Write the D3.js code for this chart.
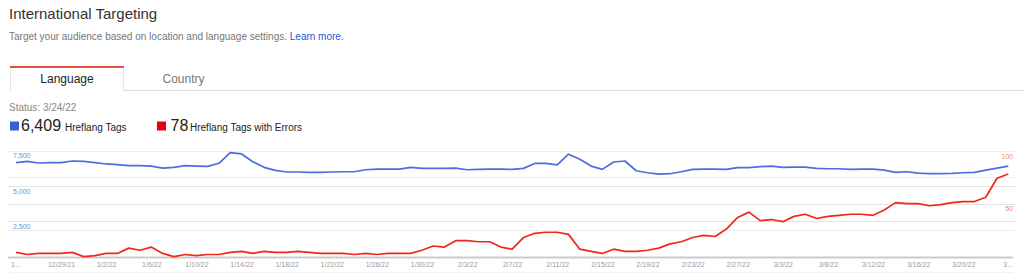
<!DOCTYPE html>
<html>
<head>
<meta charset="utf-8">
<script src="https://cdn.jsdelivr.net/npm/d3@7"></script>
<style>
  html, body { margin: 0; padding: 0; background: #fff; }
  svg { display: block; font-family: Arial, "Liberation Sans", Helvetica, sans-serif; }
</style>
</head>
<body>
<svg id="chart" width="1024" height="278"></svg>
<script>
// ---------- DATA ----------
const categories = [
  "12/25/21","12/26/21","12/27/21","12/28/21","12/29/21","12/30/21","12/31/21",
  "1/1/22","1/2/22","1/3/22","1/4/22","1/5/22","1/6/22","1/7/22","1/8/22","1/9/22","1/10/22",
  "1/11/22","1/12/22","1/13/22","1/14/22","1/15/22","1/16/22","1/17/22","1/18/22","1/19/22","1/20/22",
  "1/21/22","1/22/22","1/23/22","1/24/22","1/25/22","1/26/22","1/27/22","1/28/22","1/29/22","1/30/22","1/31/22",
  "2/1/22","2/2/22","2/3/22","2/4/22","2/5/22","2/6/22","2/7/22","2/8/22","2/9/22","2/10/22",
  "2/11/22","2/12/22","2/13/22","2/14/22","2/15/22","2/16/22","2/17/22","2/18/22","2/19/22","2/20/22",
  "2/21/22","2/22/22","2/23/22","2/24/22","2/25/22","2/26/22","2/27/22","2/28/22",
  "3/1/22","3/2/22","3/3/22","3/4/22","3/5/22","3/7/22","3/8/22","3/9/22","3/10/22","3/11/22","3/12/22",
  "3/13/22","3/14/22","3/15/22","3/16/22","3/17/22","3/18/22","3/19/22","3/20/22","3/21/22","3/22/22","3/23/22","3/24/22"
];

const hreflangTags = [
  6650,6750,6630,6650,6650,6770,6750,6650,6560,6510,
  6440,6440,6410,6270,6320,6440,6410,6390,6610,7370,
  7270,6720,6320,6110,5990,5990,5960,5960,5990,6010,
  6010,6150,6200,6200,6200,6320,6250,6250,6250,6270,
  6150,6180,6200,6200,6180,6250,6600,6600,6490,7250,
  6890,6410,6180,6700,6770,6080,5940,5840,5870,6010,
  6180,6200,6200,6180,6300,6300,6370,6410,6320,6340,
  6340,6250,6220,6220,6180,6200,6200,6130,5960,6010,
  5910,5870,5870,5890,5940,5960,6130,6270,6409
];

const hreflangErrors = [
  4,2,3,3,3,4,0,1,3,3,
  8,6,9,3,0,2,1,2,2,4,
  5,3,5,4,4,5,4,3,3,3,
  2,3,2,3,3,3,6,10,9,15,
  15,14,14,9,7,18,22,23,23,21,
  7,5,3,7,5,5,6,8,12,14,
  18,20,19,26,37,42,34,35,33,38,
  40,36,38,39,40,40,39,44,51,50,
  50,48,49,51,52,52,56,74,78
];

const leftTicks = [2500, 5000, 7500];
const rightGridTicks = [25, 50, 75, 100];
const rightLabelTicks = [50, 100];
const xTickLabels = ["1…","12/29/21","1/2/22","1/6/22","1/10/22","1/14/22","1/18/22","1/22/22",
  "1/26/22","1/30/22","2/3/22","2/7/22","2/11/22","2/15/22","2/19/22","2/23/22","2/27/22",
  "3/3/22","3/8/22","3/12/22","3/16/22","3/20/22","3…"];
const xTickDates = categories.filter((d, i) => i % 4 === 0);

const totalTags = "6,409";
const totalErrors = "78";
const statusDate = "3/24/22";

// ---------- DRAW ----------
const svg = d3.select("#chart");

// Header
svg.append("text").attr("x", 9).attr("y", 18.5).attr("font-size", 15).attr("fill", "#333")
  .text("International Targeting");
const sub = svg.append("text").attr("x", 9).attr("y", 39.5).attr("font-size", 10).attr("fill", "#777");
sub.append("tspan").text("Target your audience based on location and language settings. ");
sub.append("tspan").attr("fill", "#1a5ad6").text("Learn more.");

// Tabs
svg.append("line").attr("x1", 124).attr("x2", 1024).attr("y1", 90.5).attr("y2", 90.5)
  .attr("stroke", "#dcdcdc").attr("stroke-width", 1);
svg.append("path").attr("d", "M10.5,67 V91 M123.5,67 V91").attr("stroke", "#e6e6e6").attr("fill", "none");
svg.append("rect").attr("x", 10).attr("y", 66).attr("width", 114).attr("height", 2).attr("fill", "#e4503c");
svg.append("text").attr("x", 67).attr("y", 82.7).attr("text-anchor", "middle").attr("font-size", 12)
  .attr("fill", "#222").text("Language");
svg.append("text").attr("x", 183.5).attr("y", 82.7).attr("text-anchor", "middle").attr("font-size", 12)
  .attr("fill", "#777").text("Country");

// Status + legend
svg.append("text").attr("x", 9).attr("y", 110.5).attr("font-size", 10).attr("fill", "#888")
  .text("Status: " + statusDate);
svg.append("rect").attr("x", 10).attr("y", 121.5).attr("width", 9).attr("height", 9).attr("fill", "#3b5fd6");
svg.append("text").attr("x", 21).attr("y", 130.8).attr("font-size", 16).attr("fill", "#222").text(totalTags);
svg.append("text").attr("x", 65).attr("y", 130.8).attr("font-size", 10).attr("fill", "#222").text("Hreflang Tags");
svg.append("rect").attr("x", 157).attr("y", 121.5).attr("width", 9).attr("height", 9).attr("fill", "#e8000e");
svg.append("text").attr("x", 170.5).attr("y", 130.8).attr("font-size", 16).attr("fill", "#222").text(totalErrors);
svg.append("text").attr("x", 190).attr("y", 130.8).attr("font-size", 10).attr("fill", "#222").text("Hreflang Tags with Errors");

// Scales
const x = d3.scalePoint().domain(categories).range([16, 1008.3]);
const yL = d3.scaleLinear().domain([0, 7500]).range([256.6, 150.7]);
const yR = d3.scaleLinear().domain([0, 100]).range([256.6, 150.7]);

const gridX1 = 8, gridX2 = 1015;

// Gridlines
svg.append("g").selectAll("line").data(rightGridTicks).join("line")
  .attr("x1", gridX1).attr("x2", gridX2)
  .attr("y1", d => Math.round(yR(d)) + 0.5).attr("y2", d => Math.round(yR(d)) + 0.5)
  .attr("stroke", d => d === 50 ? "#e2e2e2" : "#ececec").attr("stroke-width", 1);
svg.append("g").selectAll("line").data(leftTicks).join("line")
  .attr("x1", gridX1).attr("x2", gridX2)
  .attr("y1", d => Math.round(yL(d)) + 0.5).attr("y2", d => Math.round(yL(d)) + 0.5)
  .attr("stroke", d => d === 7500 ? "#ececec" : "#e2e2e2").attr("stroke-width", 1);

// Left axis labels
svg.append("g").selectAll("text").data(leftTicks).join("text")
  .attr("x", 13).attr("y", d => yL(d) + 7.6)
  .attr("font-size", 7).attr("fill", "#6d8fe4")
  .text(d => d3.format(",")(d));

// Right axis labels
svg.append("g").selectAll("text").data(rightLabelTicks).join("text")
  .attr("x", 1013).attr("y", d => yR(d) + 7.8).attr("text-anchor", "end")
  .attr("font-size", 7).attr("fill", "#f7896f")
  .text(d => d);

// Baseline
svg.append("line").attr("x1", gridX1).attr("x2", 1013).attr("y1", 257.5).attr("y2", 257.5)
  .attr("stroke", "#cbcbcb").attr("stroke-width", 2.2);
svg.append("line").attr("x1", 10).attr("x2", 1013).attr("y1", 272.5).attr("y2", 272.5)
  .attr("stroke", "#f3f3f3").attr("stroke-width", 1);

// X axis
const xAxis = d3.axisBottom(x).tickValues(xTickDates).tickSize(0).tickPadding(4.8)
  .tickFormat((d, i) => xTickLabels[i]);
const gx = svg.append("g").attr("transform", "translate(0,257.5)").call(xAxis);
gx.select(".domain").remove();
gx.selectAll("text").attr("font-size", 7).attr("fill", "#9a9a9a")
  .attr("font-family", "Arial, 'Liberation Sans', Helvetica, sans-serif");

// Lines
const lineBlue = d3.line().x((d, i) => x(categories[i])).y(d => yL(d));
const lineRed = d3.line().x((d, i) => x(categories[i])).y(d => yR(d));

svg.append("path").datum(hreflangTags).attr("d", lineBlue)
  .attr("fill", "none").attr("stroke", "#4a6fdf").attr("stroke-width", 1.7)
  .attr("stroke-linejoin", "round");
svg.append("path").datum(hreflangErrors).attr("d", lineRed)
  .attr("fill", "none").attr("stroke", "#f2261b").attr("stroke-width", 1.7)
  .attr("stroke-linejoin", "round");
</script>
</body>
</html>
